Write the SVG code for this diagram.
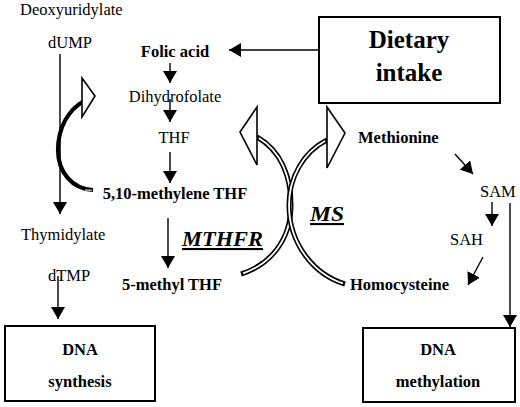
<svg xmlns="http://www.w3.org/2000/svg" width="520" height="407" viewBox="0 0 520 407">
<defs>
<style>
svg text.r,svg text.b,svg text.e,svg text.big{font-family:'Liberation Serif',serif !important}
.r{font-size:16.5px}
.b{font-size:16.5px;font-weight:bold}
.e{font-size:21px;font-weight:bold;font-style:italic;text-decoration:underline}
.big{font-size:25px;font-weight:bold}
.box{fill:#fff;stroke:#000;stroke-width:2}
.ln{stroke:#000;stroke-width:1.4;fill:none;marker-end:url(#ah)}
.rb{fill:none;stroke:#000;stroke-width:5}
.rw{fill:none;stroke:#fff;stroke-width:1.8;stroke-dasharray:0 1.2 97.6 1.2}
.hd{fill:#fff;stroke:#000;stroke-width:1.6;stroke-linejoin:miter}
</style>
<marker id="ah" viewBox="0 0 12 14" refX="12" refY="7" markerWidth="12" markerHeight="14" markerUnits="userSpaceOnUse" orient="auto">
<path d="M0,0 L12,7 L0,14 z" fill="#000"/>
</marker>
</defs>
<rect width="520" height="407" fill="#fff"/>

<g id="connectors">
<line class="ln" x1="318" y1="50" x2="229" y2="50"/>
<line class="ln" x1="170" y1="63" x2="170" y2="83"/>
<line class="ln" x1="170" y1="99" x2="170" y2="122"/>
<line class="ln" x1="170" y1="152" x2="170" y2="183"/>
<line class="ln" x1="168" y1="218" x2="168" y2="268"/>
<line class="ln" x1="60" y1="54" x2="60" y2="214"/>
<line class="ln" x1="58" y1="276" x2="58" y2="319"/>
<line class="ln" x1="455" y1="154" x2="473" y2="174"/>
<line class="ln" x1="492" y1="202" x2="492" y2="226"/>
<line class="ln" x1="483" y1="257" x2="468" y2="285"/>
<line class="ln" x1="510" y1="203" x2="510" y2="327"/>
<path class="rb" style="stroke-width:4.2" d="M93,190 C72,189 58,172 58,150 C58,128 68,110 84,101"/>
<line x1="85" y1="190" x2="92" y2="190.2" stroke="#fff" stroke-width="1"/>
<polygon class="hd" points="82,78 95,96 82,117"/>
<path class="rb" d="M257,137 C280,150 291,175 291,205 C291,240 270,265 241,274"/>
<path class="rw" pathLength="100" d="M257,137 C280,150 291,175 291,205 C291,240 270,265 241,274"/>
<path class="rb" d="M327,140 C303,152 289,178 289,205 C289,245 315,275 345,284"/>
<path class="rw" pathLength="100" d="M327,140 C303,152 289,178 289,205 C289,245 315,275 345,284"/>
<polygon class="hd" points="257,107 240,132 257,165"/>
<polygon class="hd" points="327,107 345,133 327,168"/>
</g>

<g id="deoxyuridylate"><text font-family="Liberation Serif" class="r" x="20" y="14.5">Deoxyuridylate</text></g>
<g id="dump"><text font-family="Liberation Serif" class="r" x="48" y="48">dUMP</text></g>
<g id="folic"><text font-family="Liberation Serif" class="b" x="175" y="57" text-anchor="middle">Folic acid</text></g>
<g id="dihydrofolate"><text font-family="Liberation Serif" class="r" x="175" y="102" text-anchor="middle">Dihydrofolate</text></g>
<g id="thf"><text font-family="Liberation Serif" class="r" x="174" y="143" text-anchor="middle">THF</text></g>
<g id="methyleneTHF"><text font-family="Liberation Serif" class="b" x="175" y="199" text-anchor="middle">5,10-methylene THF</text></g>
<g id="thymidylate"><text font-family="Liberation Serif" class="r" x="21" y="240">Thymidylate</text></g>
<g id="dtmp"><text font-family="Liberation Serif" class="r" x="48" y="281">dTMP</text></g>
<g id="mthfr"><text font-family="Liberation Serif" class="e" x="182" y="246" textLength="81" lengthAdjust="spacingAndGlyphs">MTHFR</text></g>
<g id="methylTHF"><text font-family="Liberation Serif" class="b" x="172" y="290" text-anchor="middle">5-methyl THF</text></g>
<g id="ms"><text font-family="Liberation Serif" class="e" x="310" y="221" textLength="34" lengthAdjust="spacingAndGlyphs">MS</text></g>
<g id="methionine"><text font-family="Liberation Serif" class="b" x="358" y="143">Methionine</text></g>
<g id="sam"><text font-family="Liberation Serif" class="r" x="480" y="197">SAM</text></g>
<g id="sah"><text font-family="Liberation Serif" class="r" x="450" y="245">SAH</text></g>
<g id="homocysteine"><text font-family="Liberation Serif" class="b" x="350" y="290">Homocysteine</text></g>

<g id="dietary">
<rect class="box" x="319" y="17" width="181" height="86"/>
<text font-family="Liberation Serif" class="big" x="409" y="48" text-anchor="middle">Dietary</text>
<text font-family="Liberation Serif" class="big" x="409" y="81" text-anchor="middle">intake</text>
</g>
<g id="dnaSynthesis">
<rect class="box" x="5" y="326" width="150" height="75"/>
<text font-family="Liberation Serif" class="b" x="80" y="355" text-anchor="middle">DNA</text>
<text font-family="Liberation Serif" class="b" x="80" y="387" text-anchor="middle">synthesis</text>
</g>
<g id="dnaMethylation">
<rect class="box" x="363" y="328" width="152" height="74"/>
<text font-family="Liberation Serif" class="b" x="438" y="355" text-anchor="middle">DNA</text>
<text font-family="Liberation Serif" class="b" x="438" y="387" text-anchor="middle">methylation</text>
</g>
</svg>
